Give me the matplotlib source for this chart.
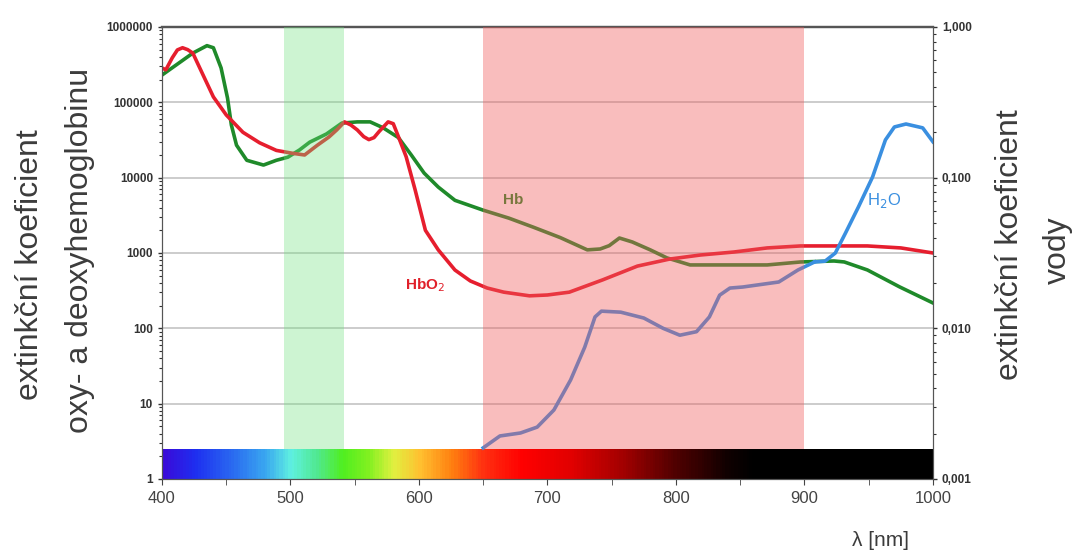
import numpy as np
import matplotlib
matplotlib.use("Agg")
import matplotlib.pyplot as plt
from matplotlib.colors import LinearSegmentedColormap
from matplotlib.ticker import LogLocator, NullFormatter, MultipleLocator

plt.rcParams['font.family'] = ['Liberation Sans', 'DejaVu Sans']

# ---- data ----
hbo2_nm = [400, 403, 408, 412, 416, 420, 424, 432, 440, 450, 463, 476, 489, 502, 511, 521,
           530, 536, 542, 547, 552, 557, 561, 565, 569, 576, 580, 584, 590, 597, 605, 615,
           628, 640, 653, 666, 686, 700, 717, 743, 770, 795, 819, 845, 871, 897, 923, 949,
           975, 1000]
hbo2_val = [2.86e5, 2.7e5, 3.9e5, 4.96e5, 5.3e5, 5.0e5, 4.5e5, 2.3e5, 1.18e5, 6.8e4, 4.0e4,
            2.9e4, 2.3e4, 2.1e4, 2.0e4, 2.7e4, 3.47e4, 4.3e4, 5.5e4, 5.0e4, 4.3e4, 3.5e4,
            3.2e4, 3.4e4, 4.1e4, 5.5e4, 5.2e4, 3.5e4, 1.9e4, 6.9e3, 2.0e3, 1.1e3, 594, 425,
            343, 302, 270, 277, 302, 440, 670, 830, 940, 1030, 1167, 1240, 1240, 1240, 1167,
            1000]

hb_nm = [400, 414, 424, 435, 440, 446, 451, 454, 458, 466, 479, 489, 498, 507, 515, 528, 540,
         552, 562, 572, 584, 594, 604, 615, 628, 650, 670, 689, 710, 731, 741, 748, 756, 766,
         780, 793, 811, 840, 871, 897, 923, 931, 949, 974, 1000]
hb_val = [2.3e5, 3.4e5, 4.5e5, 5.65e5, 5.3e5, 2.86e5, 1.14e5, 5.0e4, 2.7e4, 1.7e4, 1.47e4,
          1.7e4, 1.87e4, 2.33e4, 2.96e4, 3.8e4, 5.3e4, 5.5e4, 5.5e4, 4.6e4, 3.4e4, 2.0e4,
          1.15e4, 7.5e3, 5.0e3, 3.7e3, 2.9e3, 2.2e3, 1.6e3, 1.1e3, 1.13e3, 1.25e3, 1.58e3,
          1.4e3, 1.1e3, 860, 694, 694, 694, 760, 783, 760, 595, 355, 217]

h2o_nm = [650, 663, 679, 692, 705, 718, 729, 737, 742, 757, 775, 790, 803, 816, 826, 834, 842,
          852, 880, 895, 908, 916, 924, 932, 942, 953, 963, 970, 979, 992, 1000]
h2o_val = [0.00161, 0.00193, 0.00202, 0.00221, 0.00287, 0.00454, 0.0075, 0.0119, 0.0130,
           0.0128, 0.0117, 0.0100, 0.0090, 0.0095, 0.0119, 0.0166, 0.0185, 0.0188, 0.0203,
           0.0244, 0.0276, 0.0279, 0.0316, 0.043, 0.0639, 0.101, 0.178, 0.217, 0.227, 0.214,
           0.173]
h2o_split_nm = 908

green_band = (495, 542)
red_band = (650, 900)

spec_nm = [400, 425, 455, 480, 500, 520, 540, 560, 580, 600, 625, 650, 680, 720, 760, 800, 840, 860, 1000]
spec_col = ['#3a0ad8', '#1e2ef0', '#2a6cf0', '#3aa8f0', '#5ff0e0', '#50e890', '#50ee20', '#80f020',
            '#e0f040', '#ffc030', '#ff8010', '#ff3010', '#ff0000', '#e00000', '#a00000', '#500000',
            '#100000', '#000000', '#000000']
spec_top = 2.5

left_ticks = [1, 10, 100, 1000, 10000, 100000, 1000000]
left_labels = ['1', '10', '100', '1000', '10000', '100000', '1000000']
right_ticks = [0.001, 0.01, 0.1, 1]
right_labels = ['0,001', '0,010', '0,100', '1,000']
x_ticks = [400, 500, 600, 700, 800, 900, 1000]

# ---- figure ----
fig = plt.figure(figsize=(10.72, 5.54), dpi=100)
ax = fig.add_axes([0.1511, 0.1354, 0.7192, 0.8159])
ax.set_xlim(400, 1000)
ax.set_yscale('log')
ax.set_ylim(1, 1e6)

ax.set_axisbelow(True)
ax.yaxis.grid(True, which='major', color='#c4c4c4', lw=1.2)

# spectrum bar
cmap = LinearSegmentedColormap.from_list(
    'spec', [((w - 400) / 600, c) for w, c in zip(spec_nm, spec_col)])
xe = np.linspace(400, 1000, 601)
xc = 0.5 * (xe[:-1] + xe[1:])
ax.pcolormesh(xe, [1, spec_top], xc[np.newaxis, :], cmap=cmap, vmin=400, vmax=1000,
              shading='flat', zorder=1.5)

ax.plot(hb_nm, hb_val, color='#1f8a2a', lw=2.6, zorder=2, solid_joinstyle='round')
ax.plot(hbo2_nm, hbo2_val, color='#e61e2e', lw=2.6, zorder=2.1, solid_joinstyle='round')

ax.set_yticks(left_ticks)
ax.set_yticklabels(left_labels)
ax.yaxis.set_minor_locator(LogLocator(base=10, subs=np.arange(2, 10)))
ax.yaxis.set_minor_formatter(NullFormatter())
ax.set_xticks(x_ticks)
ax.xaxis.set_minor_locator(MultipleLocator(50))
ax.tick_params(axis='y', which='major', labelsize=8.5, colors='#333333', length=3, width=1)
ax.tick_params(axis='y', which='minor', length=2, width=0.8, colors='#333333')
ax.tick_params(axis='x', which='major', labelsize=12, colors='#444444', length=4, pad=5)
ax.tick_params(axis='x', which='minor', length=4, colors='#444444')
for lab in ax.get_yticklabels():
    lab.set_fontweight('bold')

for s in ['top', 'left', 'right', 'bottom']:
    ax.spines[s].set_color('#555555')
ax.spines['top'].set_linewidth(1.6)

ax.text(673, 5000, 'Hb', color='#2a8a2a', fontsize=11, fontweight='bold', ha='center', va='center')
ax.text(605, 376, 'HbO$_2$', color='#e0202a', fontsize=11, fontweight='bold', ha='center', va='center')

ax2 = ax.twinx()
ax2.set_yscale('log')
ax2.set_ylim(1e-3, 1)
nm = np.array(h2o_nm)
val = np.array(h2o_val)
m1 = nm <= h2o_split_nm
m2 = nm >= h2o_split_nm
ax2.plot(nm[m1], val[m1], color='#3a8fe0', lw=2.6, zorder=2, solid_joinstyle='round')
ax2.plot(nm[m2], val[m2], color='#3a8fe0', lw=2.6, zorder=2, solid_joinstyle='round')

# translucent bands laid over the curves (above the colour bar only)
band_bottom = np.log10(spec_top) / 6
ax2.axvspan(*green_band, ymin=band_bottom, ymax=1, color=(112/255, 226/255, 126/255),
            alpha=0.35, lw=0, zorder=3)
ax2.axvspan(*red_band, ymin=band_bottom, ymax=1, color=(240/255, 92/255, 92/255),
            alpha=0.4, lw=0, zorder=3)

ax2.set_yticks(right_ticks)
ax2.set_yticklabels(right_labels)
ax2.yaxis.set_minor_locator(LogLocator(base=10, subs=np.arange(2, 10)))
ax2.yaxis.set_minor_formatter(NullFormatter())
ax2.tick_params(axis='y', which='major', labelsize=8.5, colors='#333333', length=3, width=1)
ax2.tick_params(axis='y', which='minor', length=2, width=0.8, colors='#333333')
for lab in ax2.get_yticklabels():
    lab.set_fontweight('bold')
for s in ['top', 'left', 'right', 'bottom']:
    ax2.spines[s].set_color('#555555')
ax2.spines['top'].set_linewidth(1.6)
ax2.text(962, 0.071, 'H$_2$O', color='#3a8fe0', fontsize=12, ha='center', va='center')

# axis labels
lab_col = '#3c3c3c'
fig.text(30 / 1072, 1 - 265 / 554, 'extinkční koeficient', rotation=90, fontsize=23,
         color=lab_col, ha='center', va='center')
fig.text(80 / 1072, 1 - 250 / 554, 'oxy- a deoxyhemoglobinu', rotation=90, fontsize=23,
         color=lab_col, ha='center', va='center')
fig.text(1010 / 1072, 1 - 245 / 554, 'extinkční koeficient', rotation=90, fontsize=23,
         color=lab_col, ha='center', va='center')
fig.text(1058 / 1072, 1 - 250 / 554, 'vody', rotation=90, fontsize=23,
         color=lab_col, ha='center', va='center')
fig.text(880 / 1072, 1 - 541 / 554, 'λ [nm]', fontsize=15, color=lab_col, ha='center', va='center')

fig.savefig('out.png', dpi=100)
